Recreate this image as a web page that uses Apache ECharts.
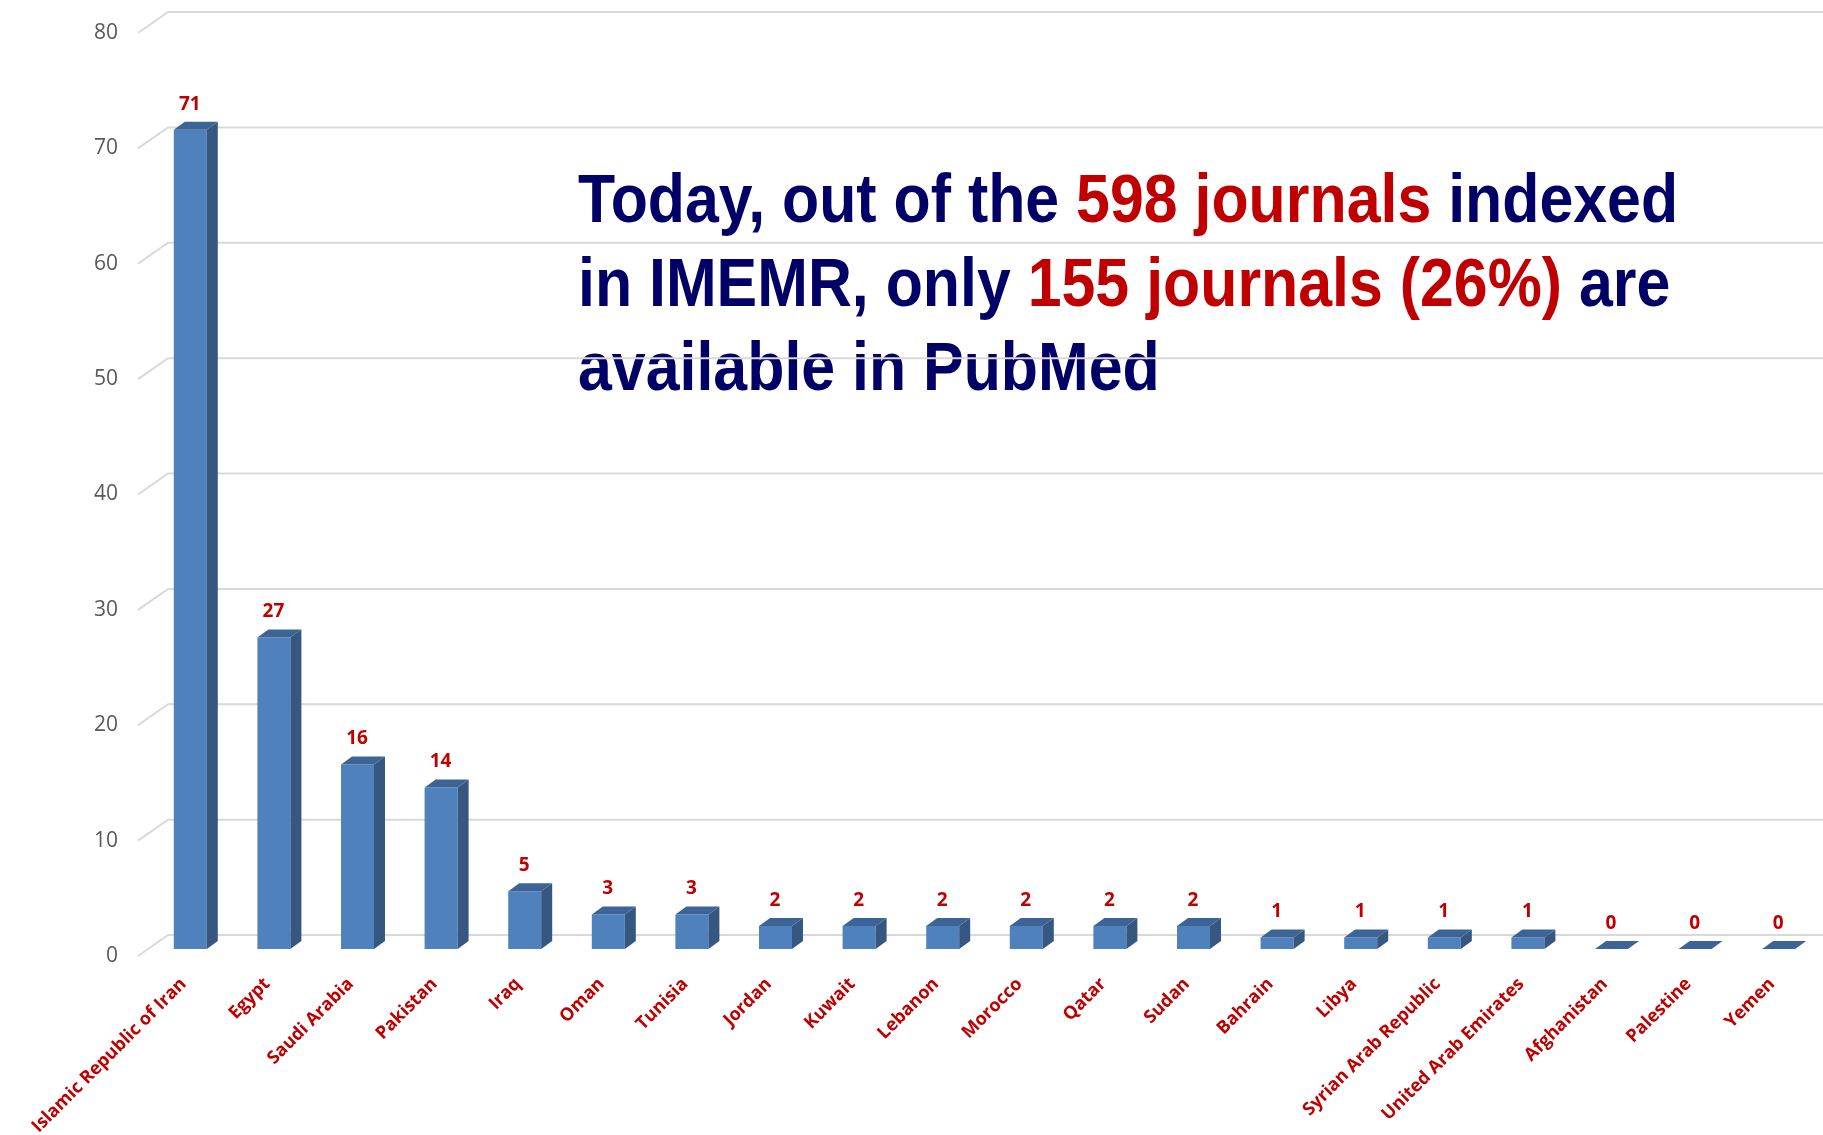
<!DOCTYPE html>
<html style="height: 100%">
<head>
<meta charset="utf-8">
<script src="https://cdn.jsdelivr.net/npm/echarts@6/dist/echarts.min.js"></script>
<title>IMEMR journals in PubMed</title>
</head>
<body style="height: 100%; margin: 0; background: #fff">
<div id="container" style="width: 1823px; height: 1135px"></div>
<script type="text/javascript">

// countries and number of journals in PubMed
let countries = ['Islamic Republic of Iran', 'Egypt', 'Saudi Arabia', 'Pakistan', 'Iraq', 'Oman',
    'Tunisia', 'Jordan', 'Kuwait', 'Lebanon', 'Morocco', 'Qatar', 'Sudan', 'Bahrain', 'Libya',
    'Syrian Arab Republic', 'United Arab Emirates', 'Afghanistan', 'Palestine', 'Yemen']
let journals = [71, 27, 16, 14, 5, 3, 3, 2, 2, 2, 2, 2, 2, 1, 1, 1, 1, 0, 0, 0]
let gridTicks = [0, 10, 20, 30, 40, 50, 60, 70, 80]

let red = '#C00000'
let navy = '#000066'
let headFont = 'bold 68px "Liberation Sans Narrow", "Arial Narrow", "Liberation Sans", sans-serif'

// back wall gridlines with the little diagonal on the left
function renderGrid(params, api) {
    let cs = params.coordSys
    let y = api.coord([0, api.value(1)])[1]
    let x0 = cs.x - 13
    return {
        type: 'polyline',
        shape: { points: [[x0, y], [x0 + 30, y - 21], [cs.x + cs.width, y - 21]] },
        style: { stroke: '#D9D9D9', lineWidth: 2, fill: null }
    }
}

// pseudo 3d bar: front, side, top
function renderBar(params, api) {
    let v = api.value(1)
    let top = api.coord([api.value(0), v])
    let base = api.coord([api.value(0), 0])
    let cx = top[0]
    let yt = top[1] - 7, yb = base[1] - 7
    let l = cx - 19, r = cx + 14, dx = 11, dy = 8
    let children = []
    if (v > 0) {
        children.push({ type: 'polygon', shape: { points: [[l, yt], [r, yt], [r, yb], [l, yb]] },
            style: { fill: '#4F81BD' } })
        children.push({ type: 'polygon', shape: { points: [[r, yt], [r + dx, yt - dy], [r + dx, yb - dy], [r, yb]] },
            style: { fill: '#36577F' } })
    }
    children.push({ type: 'polygon', shape: { points: [[l, yt], [l + dx, yt - dy], [r + dx, yt - dy], [r, yt]] },
        style: { fill: '#3C6496' } })
    children.push({ type: 'text', style: { text: String(v), x: cx - 3, y: yt - dy - 8,
        align: 'center', verticalAlign: 'bottom', fill: red, font: 'bold 19px "Open Sans"' } })
    return { type: 'group', children: children }
}

let chart = echarts.init(document.getElementById('container'))
chart.setOption({
    animation: false,
    backgroundColor: '#fff',
    grid: { left: 151, right: 0, top: 33, bottom: 179, outerBoundsMode: 'none' },
    xAxis: {
        type: 'category',
        data: countries,
        axisLine: { show: false },
        axisTick: { show: false },
        axisLabel: {
            rotate: 45, margin: 16, interval: 0, padding: [0, 13, 0, 0],
            color: red, fontWeight: 'bold', fontSize: 18, fontFamily: 'Open Sans'
        }
    },
    yAxis: {
        type: 'value', min: 0, max: 80, interval: 10,
        axisLine: { show: false },
        axisTick: { show: false },
        splitLine: { show: false },
        axisLabel: { margin: 33, color: '#595959', fontSize: 21, fontFamily: 'Open Sans' }
    },
    graphic: [{
        type: 'text',
        x: 578, y: 161, scaleX: 0.895,
        style: {
            x: 0, y: 0,
            text: '{a|Today, out of the }{b|598 journals}{a| indexed}\n' +
                  '{a|in IMEMR, only }{b|155 journals (26%)}{a| are}\n' +
                  '{a|available in PubMed}',
            rich: {
                a: { fill: navy, font: headFont, lineHeight: 84 },
                b: { fill: red, font: headFont, lineHeight: 84 }
            }
        }
    }],
    series: [
        {
            type: 'custom', z: 1, silent: true,
            renderItem: renderGrid,
            data: gridTicks.map(t => [0, t])
        },
        {
            type: 'custom', z: 2, clip: false,
            renderItem: renderBar,
            data: journals.map((v, i) => [i, v])
        }
    ]
})
</script>
</body>
</html>
